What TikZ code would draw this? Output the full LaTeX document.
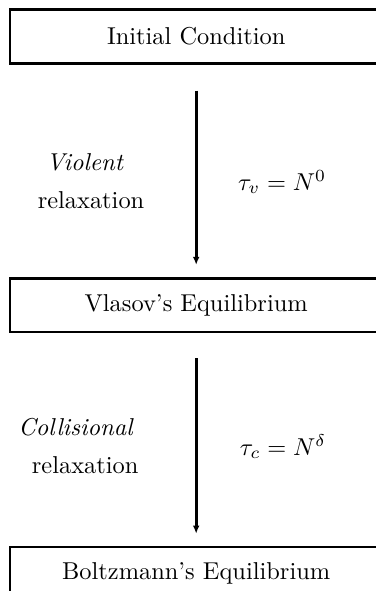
\documentclass[tikz,border=0pt]{standalone}
\usepackage{amsmath,amssymb}
\usepackage{tikz}
\usetikzlibrary{arrows.meta,positioning}
\tikzset{
  >={Latex[length=3.3pt,width=2.8pt]},
  stage/.style={draw, line width=1.15pt, align=center, minimum width=152.6pt, minimum height=22pt, inner sep=2pt},
  lbl/.style={anchor=base, inner sep=0pt},
  flow/.style={->, line width=1.15pt},
}
\begin{document}
\begin{tikzpicture}
  \useasboundingbox (0,0) rectangle (153.7pt,-242.2pt);
  \node[stage, anchor=north] (init) at (80.4pt,-3.3pt) {Initial Condition};
  \node[stage, below=87pt of init] (vlasov) {Vlasov's Equilibrium};
  \node[stage, below=87pt of vlasov] (boltz) {Boltzmann's Equilibrium};
  \draw[flow] ([yshift=-10.7pt]init.south) -- ([yshift=4.9pt]vlasov.north);
  \draw[flow] ([yshift=-10.3pt]vlasov.south) -- ([yshift=4.9pt]boltz.north);
  % labels beside the arrows
  \node[lbl] (viol) at (34.9pt,-69.7pt) {\textit{Violent}};
  \node[lbl] (relaxa) at (37.3pt,-85.3pt) {relaxation};
  \node[lbl] (tauv) at (115.6pt,-77.9pt) {$\tau_v = N^0$};
  \node[lbl] (coll) at (31.2pt,-178.4pt) {\textit{Collisional}};
  \node[lbl] (relaxb) at (34.9pt,-194pt) {relaxation};
  \node[lbl] (tauc) at (116pt,-186.6pt) {$\tau_c = N^\delta$};
\end{tikzpicture}
\end{document}
